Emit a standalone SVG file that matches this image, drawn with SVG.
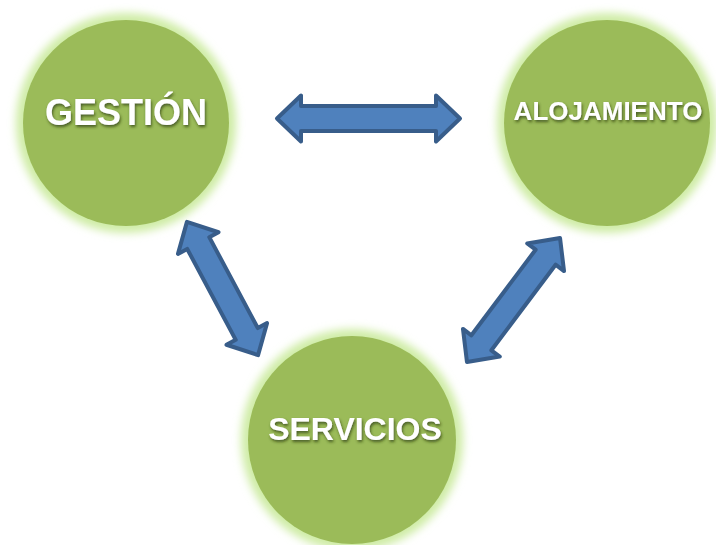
<svg xmlns="http://www.w3.org/2000/svg" width="716" height="545" viewBox="0 0 716 545">
<defs>
<filter id="glow" x="-30%" y="-30%" width="160%" height="160%">
<feGaussianBlur stdDeviation="4"/>
</filter>
<filter id="tshadow" x="-20%" y="-40%" width="140%" height="180%">
<feGaussianBlur in="SourceAlpha" stdDeviation="1.6" result="b"/>
<feOffset in="b" dx="1" dy="1.5" result="o"/>
<feFlood flood-color="#2a3a10" flood-opacity="0.75"/>
<feComposite in2="o" operator="in" result="s"/>
<feMerge><feMergeNode in="s"/><feMergeNode in="SourceGraphic"/></feMerge>
</filter>
</defs>
<style>
.halo{fill:#cfeca6;filter:url(#glow);}
.disc{fill:#9bbb59;}
.lbl{fill:#ffffff;font-family:"Liberation Sans",Arial,sans-serif;font-weight:bold;text-anchor:middle;filter:url(#tshadow);}
.arr{fill:#4f81bd;stroke:#385d8a;stroke-width:4;stroke-linejoin:round;}
</style>
<rect width="716" height="545" fill="#ffffff"/>
<g id="gestion">
<circle class="halo" cx="126" cy="123" r="110"/>
<circle class="disc" cx="126" cy="123" r="103"/>
<text class="lbl" x="126" y="125" font-size="36">GESTIÓN</text>
</g>
<g id="alojamiento">
<circle class="halo" cx="607" cy="123" r="110"/>
<circle class="disc" cx="607" cy="123" r="103"/>
<text class="lbl" x="608" y="120" font-size="26">ALOJAMIENTO</text>
</g>
<g id="servicios">
<circle class="halo" cx="352" cy="440" r="111"/>
<circle class="disc" cx="352" cy="440" r="104"/>
<text class="lbl" x="355" y="440" font-size="32">SERVICIOS</text>
</g>
<g id="connectors">
<path class="arr" transform="translate(368.5 118.5)" d="M -91.5 0 L -67.5 -23 L -67.5 -12.5 L 67.5 -12.5 L 67.5 -23 L 91.5 0 L 67.5 23 L 67.5 12.5 L -67.5 12.5 L -67.5 23 Z"/>
<path class="arr" transform="translate(222.5 288.5) rotate(61.9)" d="M -75.5 0 L -51.5 -23 L -51.5 -12.5 L 51.5 -12.5 L 51.5 -23 L 75.5 0 L 51.5 23 L 51.5 12.5 L -51.5 12.5 L -51.5 23 Z"/>
<path class="arr" transform="translate(513.5 300) rotate(-53.1)" d="M -77.5 0 L -53.5 -23 L -53.5 -12.5 L 53.5 -12.5 L 53.5 -23 L 77.5 0 L 53.5 23 L 53.5 12.5 L -53.5 12.5 L -53.5 23 Z"/>
</g>
</svg>
